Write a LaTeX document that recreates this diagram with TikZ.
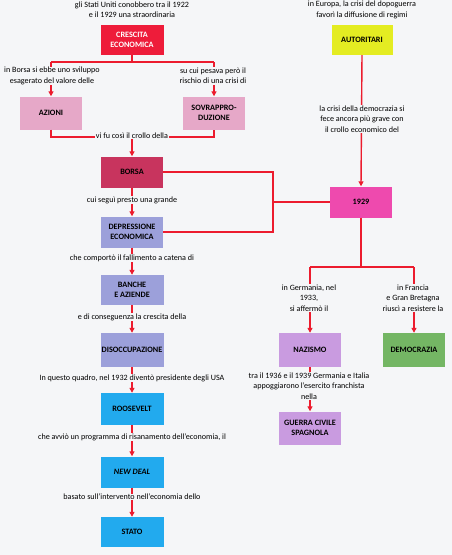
\documentclass[tikz,border=0pt]{standalone}
\usepackage{fontspec}
\setmainfont{Carlito}
\usetikzlibrary{arrows.meta}
\definecolor{bg}{HTML}{F5F6F8}
\definecolor{lnred}{HTML}{EC1C2E}
\definecolor{cred}{HTML}{EE1C3A}
\definecolor{cyel}{HTML}{E4EC22}
\definecolor{cpink}{HTML}{E6A8C8}
\definecolor{cbor}{HTML}{C8345E}
\definecolor{cper}{HTML}{9CA0DA}
\definecolor{ccyan}{HTML}{22AAEE}
\definecolor{cmag}{HTML}{EE4AAE}
\definecolor{clil}{HTML}{C99BE0}
\definecolor{cgrn}{HTML}{74B664}
\tikzset{
  box/.style={minimum width=62pt, minimum height=31pt, inner sep=0.5pt, align=center,
    font=\fontsize{8.2}{9.6}\selectfont\bfseries},
  captxt/.style={fill=bg, inner sep=0.6pt, align=center, font=\fontsize{8.1}{10.4}\selectfont},
  conn/.style={draw=lnred, line width=1.4pt},
  arr/.style={conn, -{Triangle[width=5pt,length=5pt]}},
}
\begin{document}
\begin{tikzpicture}[x=1pt,y=-1pt]
\fill[bg] (0,0) rectangle (452,555);
\useasboundingbox (0,0) rectangle (452,555);
% boxes
\node[box, fill=cred, text=white, minimum width=63pt, minimum height=30pt] (cre) at (132,40) {CRESCITA\\ECONOMICA};
\node[box, fill=cyel, minimum width=61pt, minimum height=30pt] (aut) at (362,40) {AUTORITARI};
\node[box, fill=cpink, minimum height=33pt] (azi) at (51,113) {AZIONI};
\node[box, fill=cpink, minimum height=33pt] (sov) at (214,113) {SOVRAPPRO-\\DUZIONE};
\node[box, fill=cbor] (bor) at (132,172) {BORSA};
\node[box, fill=cper] (dep) at (132,232) {DEPRESSIONE\\ECONOMICA};
\node[box, fill=cper, minimum width=63pt, minimum height=30pt] (ban) at (132,290) {BANCHE\\E AZIENDE};
\node[box, fill=cper, minimum width=63pt, minimum height=34pt] (dis) at (132,350) {DISOCCUPAZIONE};
\node[box, fill=ccyan, minimum width=63pt, minimum height=32pt] (roo) at (132,409) {ROOSEVELT};
\node[box, fill=ccyan, minimum width=63pt] (nd) at (132,472) {\itshape NEW DEAL};
\node[box, fill=ccyan, minimum width=63pt, minimum height=30pt] (sta) at (132,532) {STATO};
\node[box, fill=cmag] (y29) at (361,202) {1929};
\node[box, fill=clil, minimum height=34pt] (naz) at (310,350) {NAZISMO};
\node[box, fill=cgrn, minimum height=34pt] (dem) at (414,350) {DEMOCRAZIA};
\node[box, fill=clil, minimum height=33pt] (gue) at (310,428) {GUERRA CIVILE\\SPAGNOLA};
% junction coordinates
\coordinate (j1) at (132,62);
\coordinate (j1l) at (51,62);
\coordinate (j1r) at (214,62);
\coordinate (j2l) at (51,137);
\coordinate (j2r) at (214,137);
\coordinate (j2) at (132,137);
\coordinate (j3a) at (273,172);
\coordinate (j3b) at (273,232);
\coordinate (j3) at (273,202);
\coordinate (j4) at (361,267);
\coordinate (j4l) at (310,267);
\coordinate (j4r) at (414,267);
% connectors
\draw[conn] (cre.south) -- (j1);
\draw[conn] (j1l) -- (j1r);
\draw[arr] (j1l) -- (azi.north);
\draw[arr] (j1r) -- (sov.north);
\draw[conn] (azi.south) -- (j2l) -- (j2r) -- (sov.south);
\draw[arr] (j2) -- (bor.north);
\draw[arr] (bor.south) -- (dep.north);
\draw[conn] (bor.east) -- (j3a) -- (j3b) -- (dep.east);
\draw[conn] (j3) -- (y29.west);
\draw[arr] (aut.south) -- (y29.north);
\draw[conn] (y29.south) -- (j4);
\draw[conn] (j4l) -- (j4r);
\draw[arr] (j4l) -- (naz.north);
\draw[arr] (j4r) -- (dem.north);
\draw[arr] (naz.south) -- (gue.north);
\draw[arr] (dep.south) -- (ban.north);
\draw[arr] (ban.south) -- (dis.north);
\draw[arr] (dis.south) -- (roo.north);
\draw[arr] (roo.south) -- (nd.north);
\draw[arr] (nd.south) -- (sta.north);
% captions
\node[captxt] (c0) at (132,10) {gli Stati Uniti conobbero tra il 1922\\e il 1929 una straordinaria};
\node[captxt] (ca) at (362,10) {in Europa, la crisi del dopoguerra\\favorì la diffusione di regimi};
\node[captxt] (c1) at (52,76) {in Borsa si ebbe uno sviluppo\\esagerato del valore delle};
\node[captxt] (c2) at (213,76) {su cui pesava però il\\rischio di una crisi di};
\node[captxt] (c3) at (132,136) {vi fu così il crollo della};
\node[captxt] (c4) at (362,119) {la crisi della democrazia si\\fece ancora più grave con\\il crollo economico del};
\node[captxt] (c5) at (132,200) {cui seguì presto una grande};
\node[captxt] (c6) at (132,258) {che comportò il fallimento a catena di};
\node[captxt] (c7) at (132,317) {e di conseguenza la crescita della};
\node[captxt] (c8) at (132,378) {In questo quadro, nel 1932 diventò presidente degli USA};
\node[captxt] (c9) at (132,437) {che avviò un programma di risanamento dell'economia, il};
\node[captxt] (c10) at (132,497) {basato sull'intervento nell'economia dello};
\node[captxt] (c11) at (309,298) {in Germania, nel\\1933,\\si affermò il};
\node[captxt] (c12) at (413,298) {in Francia\\e Gran Bretagna\\riuscì a resistere la};
\node[captxt] (c13) at (309,386) {tra il 1936 e il 1939 Germania e Italia\\appoggiarono l'esercito franchista\\nella};
\end{tikzpicture}
\end{document}
